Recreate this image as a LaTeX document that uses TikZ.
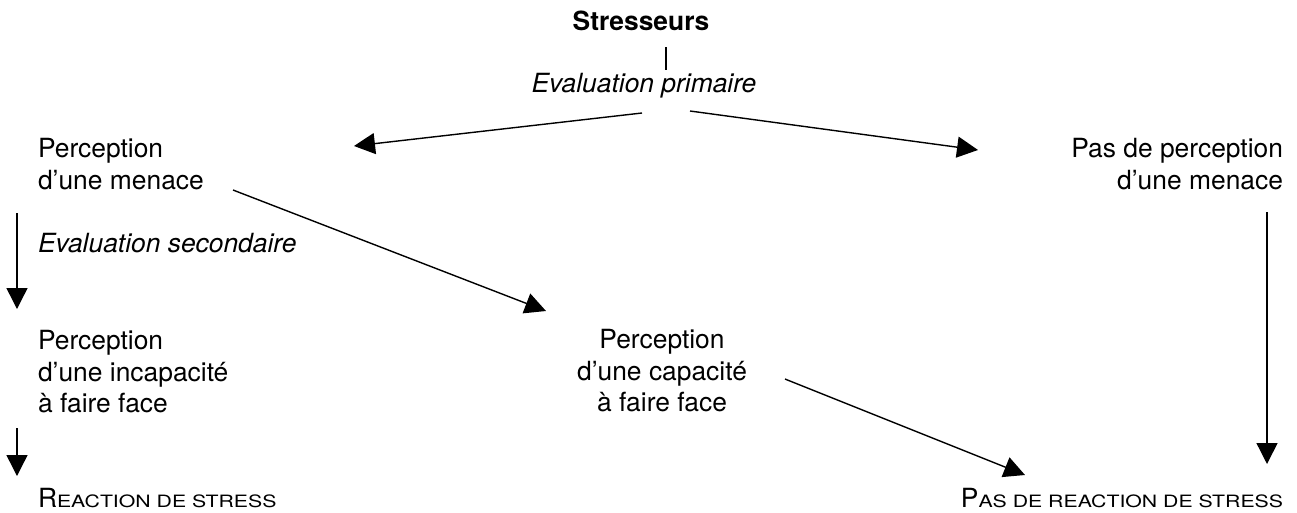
\documentclass[tikz,border=0pt]{standalone}
\usepackage{fontspec}
\usepackage{graphicx}
\setmainfont{TeX Gyre Heros}
\usetikzlibrary{arrows.meta}
\newcommand\fakesc[1]{\scalebox{1.25}[1]{\fontsize{17}{17}\selectfont #1}}
\begin{document}
\begin{tikzpicture}[x=1pt,y=-1pt,
  every node/.style={inner sep=0pt,outer sep=0pt,font=\fontsize{26.4}{31.5}\selectfont},
  conn/.style={line width=1.4pt},
  arr/.style={conn,-{Triangle[length=21pt,width=21pt]}}]
\useasboundingbox (0,0) rectangle (1297,512);
% nodes
\node[anchor=base,font=\fontsize{26.4}{31.5}\selectfont\bfseries] (stress) at (641,30) {Stresseurs};
\node[anchor=base,font=\fontsize{26.4}{31.5}\selectfont\itshape] (evalp) at (644,92) {Evaluation primaire};
\node[anchor=north west,align=left] (pm) at (38,138.3) {Perception\\d'une menace};
\node[anchor=north east,align=right] (npm) at (1283,138.3) {Pas de perception\\d'une menace};
\node[anchor=base west,font=\fontsize{26.4}{31.5}\selectfont\itshape] (evals) at (38,252) {Evaluation secondaire};
\node[anchor=north west,align=left] (pi) at (38,330.5) {Perception\\d'une incapacité\\à faire face};
\node[anchor=north,align=center] (pc) at (662,329.5) {Perception\\d'une capacité\\à faire face};
\node[anchor=base west] (rs) at (38,507) {R\fakesc{EACTION DE STRESS}};
\node[anchor=base east] (nrs) at (1283,507) {P\fakesc{AS DE REACTION DE STRESS}};
% connector end points
\coordinate (a1) at (666,47);
\coordinate (a2) at (666,70);
\coordinate (b1) at (642,113);
\coordinate (b2) at (354,146);
\coordinate (c1) at (690,111);
\coordinate (c2) at (978,150);
\coordinate (d1) at (17,213);
\coordinate (d2) at (17,309);
\coordinate (e1) at (233,190);
\coordinate (e2) at (546,311);
\coordinate (f1) at (17,428);
\coordinate (f2) at (17,476);
\coordinate (g1) at (785,379);
\coordinate (g2) at (1025,475);
\coordinate (h1) at (1267,212);
\coordinate (h2) at (1267,464);
% connectors
\draw[conn] (a1) -- (a2);
\draw[arr] (b1) -- (b2);
\draw[arr] (c1) -- (c2);
\draw[arr] (d1) -- (d2);
\draw[arr] (e1) -- (e2);
\draw[arr] (f1) -- (f2);
\draw[arr] (g1) -- (g2);
\draw[arr] (h1) -- (h2);
\end{tikzpicture}
\end{document}
